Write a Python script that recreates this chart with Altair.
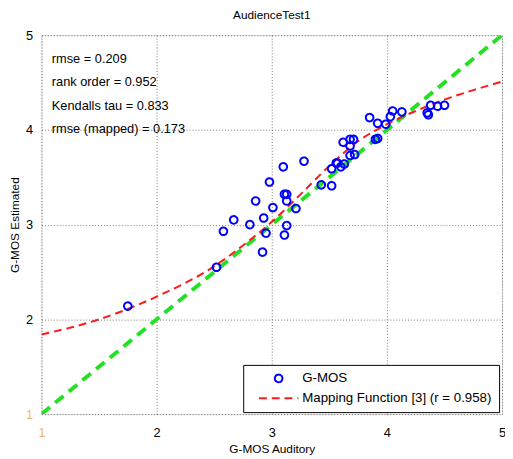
import altair as alt
import pandas as pd

# G-MOS data points (auditory vs estimated)
gmos_aud = [1.75, 2.52, 2.58, 2.67, 2.81, 2.86, 2.93, 2.98, 2.95, 2.92,
            3.01, 3.10, 3.11, 3.13, 3.13, 3.13, 3.11, 3.21, 3.28, 3.43,
            3.52, 3.52, 3.56, 3.57, 3.63, 3.60, 3.68, 3.72, 3.62, 3.68,
            3.71, 3.68, 3.85, 3.92, 3.99, 4.03, 4.05, 4.13, 3.90, 3.92,
            4.36, 4.35, 4.38, 4.44, 4.50]
gmos_est = [2.14, 2.55, 2.93, 3.05, 3.00, 3.25, 3.07, 3.45, 2.91, 2.71,
            3.18, 3.61, 3.32, 3.32, 3.25, 2.99, 2.89, 3.17, 3.67, 3.42,
            3.41, 3.59, 3.65, 3.65, 3.64, 3.61, 3.73, 3.74, 3.87, 3.90,
            3.90, 3.83, 4.13, 4.07, 4.06, 4.14, 4.20, 4.19, 3.90, 3.91,
            4.16, 4.18, 4.26, 4.25, 4.26]

# Mapping function curve
map_x = [1.0, 1.5, 2.0, 2.5, 2.75, 3.0, 3.25, 3.5, 3.75, 4.0, 4.25, 4.5, 4.75, 5.0]
map_y = [1.84, 2.00, 2.24, 2.56, 2.78, 3.03, 3.32, 3.62, 3.88, 4.06, 4.20, 4.32, 4.42, 4.51]

# identity line
ident_x = [1, 5]
ident_y = [1, 5]

stats = ["rmse = 0.209", "rank order = 0.952", "Kendalls tau = 0.833", "rmse (mapped) = 0.173"]
stats_x = [1.09, 1.09, 1.09, 1.09]
stats_y = [4.75, 4.50, 4.25, 4.01]

series = ["G-MOS", "Mapping Function [3] (r = 0.958)"]
ticks = [1, 2, 3, 4, 5]

FONT = "Liberation Sans"

pts = pd.DataFrame({"x": gmos_aud, "y": gmos_est, "series": series[0]})
curve = pd.DataFrame({"x": map_x, "y": map_y, "series": series[1]})
ident = pd.DataFrame({"x": ident_x, "y": ident_y})
txt = pd.DataFrame({"x": stats_x, "y": stats_y, "t": stats})

lab_color = {"condition": {"test": "datum.value == 1", "value": "#e6b96a"}, "value": "#000000"}

xs = alt.Scale(domain=[1, 5], nice=False, zero=False)
ys = alt.Scale(domain=[1, 5], nice=False, zero=False)

xax = alt.Axis(values=ticks, format="d", title="G-MOS Auditory", grid=True, gridDash=[1, 2],
               gridColor="#555555", gridOpacity=0.8, ticks=False, tickSize=0, labelPadding=13,
               labelFontSize=13, titleFontSize=12, titleFontWeight="normal",
               labelFont=FONT, titleFont=FONT, domain=False, titlePadding=4,
               labelColor=lab_color, labelFlush=False)
yax = alt.Axis(values=ticks, format="d", title="G-MOS Estimated", grid=True, gridDash=[1, 2],
               gridColor="#555555", gridOpacity=0.8, ticks=False, tickSize=0, labelPadding=9,
               labelFontSize=13, titleFontSize=12, titleFontWeight="normal",
               labelFont=FONT, titleFont=FONT, domain=False, titlePadding=4,
               labelColor=lab_color, labelFlush=False)

color_scale = alt.Scale(domain=series, range=["#0000ff", "#ff1a1a"])
shape_scale = alt.Scale(domain=series, range=["circle", "M-2,0H2"])
size_scale = alt.Scale(domain=series, range=[60, 400])
dash_scale = alt.Scale(domain=series, range=[[1, 0], [8, 5]])

leg = alt.Legend(title=None, orient="none", legendX=205, legendY=335,
                 strokeColor="#000000", fillColor="#ffffff", padding=7,
                 labelFont=FONT, labelFontSize=13.5, symbolStrokeWidth=2,
                 rowPadding=1, labelOffset=13, symbolOffset=18, cornerRadius=0,
                 labelLimit=0, labelExpr="datum.label + '      '")

green = alt.Chart(ident).mark_line(color="#22e022", strokeWidth=4, strokeDash=[11, 7], clip=True).encode(
    x=alt.X("x:Q", scale=xs, axis=xax),
    y=alt.Y("y:Q", scale=ys, axis=yax),
)

red = alt.Chart(curve).mark_line(strokeWidth=2, interpolate="monotone", clip=True).encode(
    x=alt.X("x:Q", scale=xs),
    y=alt.Y("y:Q", scale=ys),
    color=alt.Color("series:N", scale=color_scale, legend=leg),
    strokeDash=alt.StrokeDash("series:N", scale=dash_scale, legend=leg),
)

points = alt.Chart(pts).mark_point(filled=False, strokeWidth=2, opacity=1).encode(
    x=alt.X("x:Q", scale=xs),
    y=alt.Y("y:Q", scale=ys),
    color=alt.Color("series:N", scale=color_scale, legend=leg),
    shape=alt.Shape("series:N", scale=shape_scale, legend=leg),
    size=alt.Size("series:N", scale=size_scale, legend=leg),
    strokeDash=alt.StrokeDash("series:N", scale=dash_scale, legend=leg),
)

text = alt.Chart(txt).mark_text(align="left", baseline="middle", font=FONT, fontSize=13, color="#000000").encode(
    x=alt.X("x:Q", scale=xs),
    y=alt.Y("y:Q", scale=ys),
    text="t:N",
)

chart = alt.layer(green, red, points, text).properties(
    width=468, height=385,
    title=alt.Title("AudienceTest1", font=FONT, fontSize=12, fontWeight="normal", offset=7),
    autosize=alt.AutoSizeParams(type="none"),
    padding={"left": 34, "top": 24, "right": 3, "bottom": 42},
).configure_view(stroke="#000000", strokeWidth=1.5).configure(background="#ffffff")

chart.save("out.html", embed_options={"renderer": "svg", "actions": False})
